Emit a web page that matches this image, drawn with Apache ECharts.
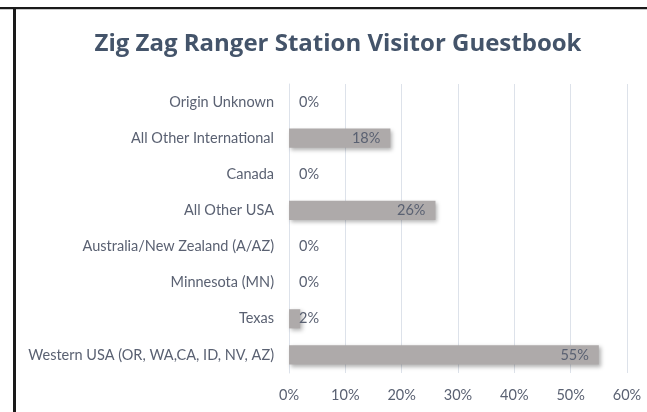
<!DOCTYPE html>
<html>
<head>
<meta charset="utf-8">
<script src="https://cdn.jsdelivr.net/npm/echarts@6/dist/echarts.min.js"></script>
<style>
  html, body { margin: 0; padding: 0; background: #fff; }
  #chart { width: 647px; height: 412px; }
</style>
</head>
<body>
<div id="chart"></div>
<script>
// Visitor origins, listed top to bottom as shown on the chart
const origins = [
  'Origin Unknown',
  'All Other International',
  'Canada',
  'All Other USA',
  'Australia/New Zealand (A/AZ)',
  'Minnesota (MN)',
  'Texas',
  'Western USA (OR, WA,CA, ID, NV, AZ)'
];
// Share of guestbook entries, in percent
const shares = [0, 18, 0, 26, 0, 0, 2, 55];
// Value axis ticks
const axisMax = 60;
const axisStep = 10;

const chartTitle = 'Zig Zag Ranger Station Visitor Guestbook';
const textColor = '#5a6172';
const fontFamily = 'Lato, "Open Sans", sans-serif';
const labelSize = 14.5;

const chart = echarts.init(document.getElementById('chart'));

// Short bars get their label just past the axis, longer ones inside the bar end
const barData = shares.map(v => ({
  value: v,
  label: v < 5
    ? { position: 'insideLeft', distance: 10 }
    : { position: 'insideRight', distance: 10 }
}));

chart.setOption({
  animation: false,
  backgroundColor: '#ffffff',
  graphic: [
    // frame edges
    { type: 'rect', shape: { x: 0, y: 7, width: 647, height: 2 }, style: { fill: '#1a1a1a' }, silent: true },
    { type: 'rect', shape: { x: 0, y: 9, width: 647, height: 1 }, style: { fill: '#c8c8c8' }, silent: true },
    { type: 'rect', shape: { x: 13, y: 7, width: 3, height: 405 }, style: { fill: '#1a1a1a' }, silent: true },
    // chart title
    {
      type: 'text',
      x: 338,
      y: 32,
      silent: true,
      style: {
        text: chartTitle,
        align: 'center',
        verticalAlign: 'top',
        fill: '#44546a',
        fontSize: 24,
        fontWeight: 'bold',
        fontFamily: '"Open Sans", Lato, sans-serif'
      }
    }
  ],
  grid: { left: 289, right: 20, top: 84, bottom: 39, containLabel: false },
  xAxis: {
    type: 'value',
    min: 0,
    max: axisMax,
    interval: axisStep,
    axisLine: { show: false },
    axisTick: { show: false },
    splitLine: { lineStyle: { color: '#dde2ea', width: 1 } },
    axisLabel: {
      color: textColor,
      fontSize: labelSize,
      fontFamily: fontFamily,
      margin: 15,
      formatter: v => v + '%'
    }
  },
  yAxis: {
    type: 'category',
    data: origins,
    inverse: true,
    axisLine: { show: true, lineStyle: { color: '#dde2ea' } },
    axisTick: { show: false },
    axisLabel: {
      color: textColor,
      fontSize: labelSize,
      fontFamily: fontFamily,
      margin: 15
    }
  },
  series: [{
    type: 'bar',
    data: barData,
    barWidth: '53%',
    itemStyle: {
      color: '#aeaaaa',
      shadowColor: 'rgba(0,0,0,0.3)',
      shadowBlur: 4,
      shadowOffsetX: 2,
      shadowOffsetY: 2
    },
    label: {
      show: true,
      color: textColor,
      fontSize: labelSize,
      fontFamily: fontFamily,
      formatter: p => p.value + '%'
    }
  }]
});
</script>
</body>
</html>
